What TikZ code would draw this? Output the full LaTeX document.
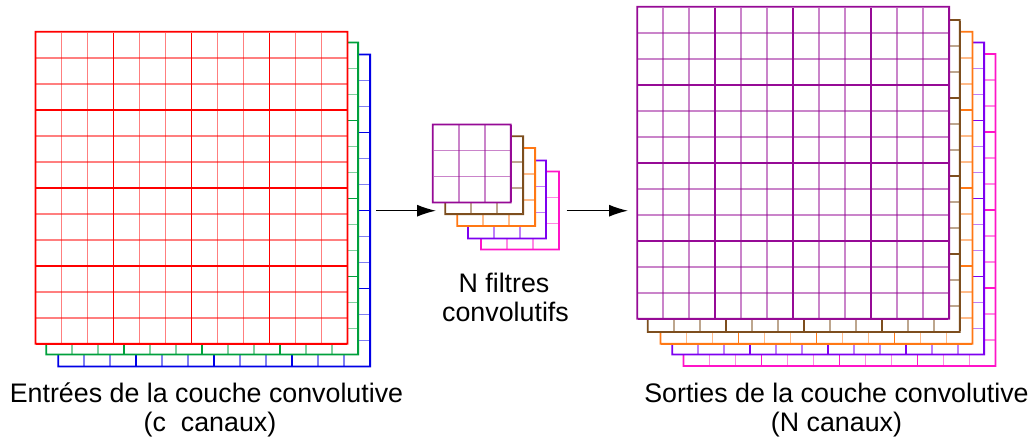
\documentclass[tikz,border=0pt]{standalone}
\usepackage{fontspec}
\setmainfont{Liberation Sans}
\usetikzlibrary{arrows.meta}

\definecolor{mapred}{RGB}{255,0,0}
\definecolor{mapgreen}{RGB}{0,160,60}
\definecolor{mapblue}{RGB}{0,0,230}
\definecolor{mappurple}{RGB}{150,10,150}
\definecolor{mapbrown}{RGB}{125,78,30}
\definecolor{maporange}{RGB}{255,120,20}
\definecolor{mapviolet}{RGB}{125,0,240}
\definecolor{mapmagenta}{RGB}{255,20,200}

\tikzset{
  gridmajor/.style={fill opacity=1},
  gridminor/.style={fill opacity=0.5},
  flowarrow/.style={line width=1.4pt, -{Latex[length=19pt,width=12pt]}},
  caption/.style={font=\fontsize{26.8}{30}\selectfont, inner sep=0pt, anchor=base}
}

% half the width of a grid line
\newcommand\halfw{0.9}

% \featuremap{x}{y}{cells}{colour}: a square map of cells (26px each),
% white-filled, with every third line stronger; lines are thin bars
\newcommand\featuremap[4]{%
  \begin{scope}[shift={(#1,#2)}]
    \pgfmathsetmacro\mapside{26*#3}
    \fill[white] (0,0) rectangle (\mapside,\mapside);
    \foreach \k in {1,...,#3}{
      \pgfmathtruncatemacro\mapmod{mod(\k,3)}
      \ifnum\mapmod=0\relax
        \def\mapstyle{gridmajor}%
      \else
        \def\mapstyle{gridminor}%
      \fi
      \fill[\mapstyle,#4] (26*\k-\halfw,\halfw) rectangle (26*\k+\halfw,\mapside-\halfw);
      \fill[\mapstyle,#4] (\halfw,26*\k-\halfw) rectangle (\mapside-\halfw,26*\k+\halfw);
    }
    \fill[#4,even odd rule] (-\halfw,-\halfw) rectangle (\mapside+\halfw,\mapside+\halfw)
      (\halfw,\halfw) rectangle (\mapside-\halfw,\mapside-\halfw);
  \end{scope}}

\begin{document}
\begin{tikzpicture}[x=1pt,y=-1pt]
  \useasboundingbox (0,0) rectangle (1035,441);

  % input channels
  \featuremap{58.3}{54.5}{12}{mapblue}
  \featuremap{46.2}{42.5}{12}{mapgreen}
  \featuremap{35.5}{31.7}{12}{mapred}

  % bank of convolution filters
  \featuremap{481}{171.5}{3}{mapmagenta}
  \featuremap{468}{160.5}{3}{mapviolet}
  \featuremap{457.3}{148}{3}{maporange}
  \featuremap{445.3}{136.2}{3}{mapbrown}
  \featuremap{432.8}{124.5}{3}{mappurple}

  % output channels
  \featuremap{683.5}{54}{12}{mapmagenta}
  \featuremap{672.3}{42.5}{12}{mapviolet}
  \featuremap{660.5}{31.7}{12}{maporange}
  \featuremap{647.8}{20}{12}{mapbrown}
  \featuremap{637.2}{6.8}{12}{mappurple}

  % connectors between the three stages
  \coordinate (inputs-out) at (376,210.7);
  \coordinate (filters-in) at (436,210.7);
  \coordinate (filters-out) at (566.5,210.7);
  \coordinate (outputs-in) at (628,210.7);
  \draw[flowarrow] (inputs-out) -- (filters-in);
  \draw[flowarrow] (filters-out) -- (outputs-in);

  % captions
  \node[caption] (in-title) at (206.5,402) {Entrées de la couche convolutive};
  \node[caption] (in-count) at (210,431) {(c\ \ canaux)};
  \node[caption] (flt-title) at (504,292) {N filtres};
  \node[caption] (flt-kind) at (505.5,321.5) {convolutifs};
  \node[caption] (out-title) at (836.5,402) {Sorties de la couche convolutive};
  \node[caption] (out-count) at (836.5,431) {(N canaux)};
\end{tikzpicture}
\end{document}
